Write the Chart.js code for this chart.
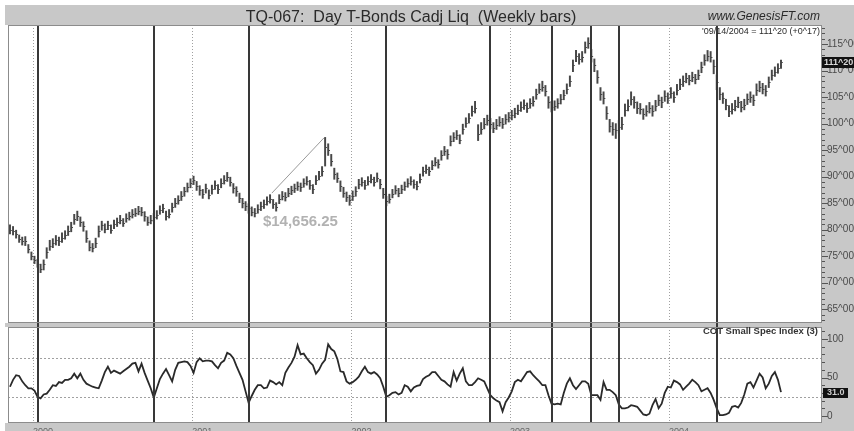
<!DOCTYPE html>
<html>
<head>
<meta charset="utf-8">
<script src="https://cdn.jsdelivr.net/npm/chart.js@4.4.1/dist/chart.umd.min.js"></script>
<style>
  body { margin: 0; background: #fff; }
  #wrap { position: relative; width: 854px; height: 431px; overflow: hidden; }
  canvas { position: absolute; left: 0; }
  #price { top: 0; }
  #cot { top: 325px; }
</style>
</head>
<body>
<div id="wrap">
  <canvas id="price" width="854" height="325"></canvas>
  <canvas id="cot" width="854" height="106"></canvas>
</div>
<script>
// weekly bars, first bar = week of 15 Nov 1999, last = week of 13 Sep 2004
const lows = [
  79.2,79.0,78.4,77.6,77.1,77.0,75.6,74.3,73.6,72.9,
  71.9,72.4,74.6,76.1,76.6,77.1,77.0,77.6,78.2,78.9,
  79.6,81.0,81.7,80.6,79.7,77.6,76.0,75.8,76.6,78.6,
  79.9,79.4,80.0,79.3,80.2,80.6,81.1,80.6,81.4,81.8,
  82.2,82.5,82.8,82.6,81.6,80.8,81.1,81.5,82.0,82.9,
  83.2,81.8,82.2,83.3,84.2,84.8,85.5,86.3,87.1,87.9,
  88.5,87.4,86.5,85.9,86.9,85.8,86.7,87.6,86.8,87.9,
  88.6,89.1,88.2,86.9,86.3,85.1,84.1,83.6,83.1,82.6,
  82.4,83.1,83.6,84.0,84.6,85.0,84.0,83.5,84.9,85.6,
  85.4,86.2,86.6,87.0,87.4,87.2,88.0,88.4,87.6,86.8,
  88.5,89.4,90.1,92.0,94.0,92.0,89.5,88.9,87.2,86.1,
  85.3,84.6,85.5,86.3,87.7,88.2,87.6,88.4,88.8,88.2,
  89.0,87.7,85.9,84.5,85.0,86.0,86.7,86.2,86.8,87.4,
  88.0,88.4,87.8,87.5,88.8,90.1,90.6,90.2,91.3,92.0,
  91.6,93.1,94.0,93.3,95.8,96.6,97.0,96.2,98.0,99.3,
  100.1,101.4,102.0,96.8,98.0,99.0,99.7,99.0,98.3,98.9,
  99.5,99.1,99.9,100.3,100.7,101.1,101.7,102.3,102.7,102.1,
  102.9,103.3,104.6,105.7,106.1,105.2,102.9,102.2,102.5,102.9,
  103.7,104.5,105.6,107.0,109.8,111.7,111.2,111.6,113.3,114.2,
  111.6,109.8,107.6,104.4,103.7,100.8,98.4,97.8,97.2,98.2,
  98.9,101.4,102.4,103.5,102.9,101.9,101.8,100.8,101.4,102.0,
  101.4,102.4,103.4,103.0,104.2,103.8,104.8,104.0,105.4,106.4,
  107.0,107.7,107.3,107.9,107.5,108.3,109.6,111.0,111.8,111.6,
  109.4,106.4,104.5,103.8,102.6,101.3,101.8,102.4,103.0,102.2,
  102.6,103.6,104.0,103.4,105.3,106.0,105.6,105.2,106.8,108.2,
  108.9,109.5,110.4
];
const highs = [
  80.9,80.6,79.9,79.0,78.6,78.7,77.2,75.8,75.0,74.4,
  73.5,74.3,76.6,78.0,78.3,78.9,78.6,79.4,79.8,80.7,
  81.4,82.9,83.5,82.4,81.5,79.8,77.9,77.4,78.4,80.7,
  81.6,81.1,81.6,80.9,81.8,82.2,82.7,82.1,83.0,83.3,
  83.8,84.0,84.4,84.2,83.4,82.4,82.7,83.1,83.6,84.5,
  84.8,83.5,83.8,85.0,85.9,86.4,87.2,88.0,88.8,89.6,
  90.1,89.1,88.3,87.6,88.6,87.5,88.4,89.2,88.5,89.6,
  90.2,90.8,89.9,88.7,88.1,86.9,85.9,85.3,84.9,84.3,
  84.0,84.7,85.2,85.6,86.2,86.6,85.7,85.1,86.6,87.2,
  87.0,87.8,88.2,88.6,89.0,88.8,89.6,90.0,89.3,88.5,
  90.2,91.0,91.9,97.4,96.2,94.2,91.6,90.7,89.2,88.0,
  87.1,86.5,87.3,88.1,89.5,89.8,89.3,90.0,90.4,89.9,
  90.7,89.5,87.8,86.3,86.7,87.6,88.3,87.8,88.4,89.0,
  89.6,90.0,89.4,89.1,90.5,91.8,92.2,91.8,93.0,93.6,
  93.2,94.9,95.7,95.1,97.7,98.3,98.7,97.9,99.9,101.1,
  101.9,103.3,104.2,99.8,100.2,101.0,101.6,101.0,100.2,100.8,
  101.3,101.0,101.7,102.1,102.5,102.9,103.5,104.1,104.5,103.9,
  104.7,105.1,106.5,107.5,108.0,107.2,105.1,104.2,104.3,104.7,
  105.5,106.3,107.5,109.0,112.0,113.8,113.2,113.6,115.4,116.2,
  114.0,112.2,110.0,106.8,106.0,103.2,100.8,100.2,100.0,100.6,
  101.2,103.7,104.5,106.0,105.1,104.1,103.8,102.8,103.4,104.0,
  103.4,104.4,105.4,105.0,106.2,105.8,106.8,106.0,107.4,108.4,
  109.0,109.5,109.1,109.7,109.3,110.1,111.6,113.0,113.8,113.6,
  112.0,109.2,106.8,105.8,104.6,103.4,103.8,104.4,105.0,104.2,
  104.6,105.6,106.0,105.4,107.5,108.0,107.6,107.2,108.8,110.1,
  110.7,111.3,112.0
];
const closes = [
  80.0,79.8,79.2,78.3,77.9,77.8,76.3,75.0,74.2,73.6,
  72.6,73.5,75.8,77.0,77.5,78.0,77.8,78.5,79.0,79.8,
  80.5,82.0,82.6,81.5,80.6,78.5,76.8,76.5,77.5,79.8,
  80.8,80.2,80.8,80.0,81.0,81.4,81.9,81.3,82.2,82.5,
  83.0,83.2,83.6,83.4,82.5,81.5,81.9,82.3,82.8,83.7,
  84.0,82.6,83.0,84.2,85.0,85.6,86.4,87.2,88.0,88.8,
  89.3,88.2,87.4,86.8,87.8,86.6,87.6,88.4,87.6,88.8,
  89.4,90.0,89.0,87.8,87.2,86.0,85.0,84.5,84.0,83.4,
  83.2,83.9,84.4,84.8,85.4,85.8,84.8,84.3,85.8,86.4,
  86.2,87.0,87.4,87.8,88.2,88.0,88.8,89.2,88.5,87.6,
  89.4,90.2,91.0,95.5,95.0,93.0,90.5,89.8,88.2,87.0,
  86.2,85.6,86.4,87.2,88.6,89.0,88.4,89.2,89.6,89.0,
  89.8,88.6,86.8,85.4,85.8,86.8,87.5,87.0,87.6,88.2,
  88.8,89.2,88.6,88.3,89.6,91.0,91.4,91.0,92.2,92.8,
  92.4,94.0,94.8,94.2,96.8,97.4,97.8,97.0,99.0,100.2,
  101.0,102.4,103.0,98.0,99.0,100.0,100.6,100.0,99.2,99.8,
  100.4,100.0,100.8,101.2,101.6,102.0,102.6,103.2,103.6,103.0,
  103.8,104.2,105.6,106.6,107.0,106.2,104.0,103.2,103.4,103.8,
  104.6,105.4,106.6,108.0,111.0,112.8,112.2,112.6,114.4,115.2,
  112.8,111.0,108.8,105.6,104.8,102.0,99.6,99.0,98.8,99.4,
  100.0,102.6,103.4,104.6,104.0,103.0,102.8,101.8,102.4,103.0,
  102.4,103.4,104.4,104.0,105.2,104.8,105.8,105.0,106.4,107.4,
  108.0,108.6,108.2,108.8,108.4,109.2,110.6,112.0,112.8,112.6,
  110.8,107.8,105.6,104.8,103.6,102.4,102.8,103.4,104.0,103.2,
  103.6,104.6,105.0,104.4,106.4,107.0,106.6,106.2,107.8,109.2,
  109.8,110.4,111.625
];
const cotIndex = [
  38,47,53,52,45,40,36,36,33,25,
  23,28,29,34,40,39,44,43,47,47,
  49,55,49,55,47,42,40,38,37,36,
  46,57,64,56,59,57,55,58,61,64,
  68,69,58,68,56,46,36,24,36,48,
  55,61,53,45,60,69,70,71,70,65,
  56,70,75,71,72,72,71,66,62,69,
  72,82,80,75,65,56,47,32,17,26,
  34,40,40,36,37,46,44,41,44,40,
  56,63,69,77,92,80,81,75,70,66,
  55,60,68,73,93,87,84,74,58,57,
  45,42,44,47,51,58,64,57,55,57,
  54,49,38,25,27,30,31,28,30,40,
  38,32,37,39,40,48,51,53,57,57,
  52,47,45,41,38,57,46,55,62,45,
  40,40,44,49,47,45,36,27,23,20,
  18,6,18,24,32,44,47,45,51,57,
  58,53,49,45,40,40,27,16,15,16,
  15,30,42,49,40,35,40,45,45,42,
  27,27,27,21,44,34,34,31,27,15,
  10,10,11,14,13,12,7,2,1,3,
  14,22,10,16,30,38,37,46,44,41,
  34,38,42,47,44,40,32,34,36,30,
  21,10,1,1,2,4,12,13,11,17,
  28,42,44,37,46,55,50,36,42,52,
  57,47,31
];

const yearLabels = ['2000', '2001', '2002', '2003', '2004'];
const yearStarts = [7.5, 59.6, 111.6, 163.4, 215.4];        // week position of 1 January
const signalWeeks = [9, 47, 78, 123, 157, 177, 190, 199, 231];
const priceTicks = [65, 70, 75, 80, 85, 90, 95, 100, 105, 110, 115];
const cotTicks = [0, 50, 100];
const cotLevels = [25, 75];
const trendWeeks = [85.6, 102.6];
const trendPrices = [86.9, 97.3];
const trendLabel = '$14,656.25';

const weeks = closes.map((_, i) => i);
const FONT = '"Liberation Sans", Arial, sans-serif';
const GREY = '#c8c8c8';
const X_MIN = -0.65;
const X_MAX = 265.4;

Chart.defaults.font.family = FONT;
Chart.defaults.animation = false;

function fmt32(v) {
  const whole = Math.floor(v);
  const t = Math.round((v - whole) * 32);
  return whole + '^' + String(t).padStart(2, '0');
}

// keep chart areas exactly where the padding puts them
function noPadding(s) {
  s.paddingTop = 0;
  s.paddingBottom = 0;
  s.paddingLeft = 0;
  s.paddingRight = 0;
}

function drawYearLines(chart) {
  const { ctx, chartArea: a } = chart;
  const x = chart.scales.x;
  ctx.save();
  ctx.strokeStyle = '#a0a0a0';
  ctx.lineWidth = 1;
  ctx.setLineDash([1, 2]);
  yearStarts.forEach((w) => {
    const px = Math.round(x.getPixelForValue(w)) + 0.5;
    ctx.beginPath();
    ctx.moveTo(px, a.top);
    ctx.lineTo(px, a.bottom);
    ctx.stroke();
  });
  ctx.restore();
}

function drawSignals(chart, top, bottom) {
  const { ctx } = chart;
  const x = chart.scales.x;
  ctx.save();
  ctx.strokeStyle = '#383838';
  ctx.lineWidth = 2;
  signalWeeks.forEach((w) => {
    const px = Math.round(x.getPixelForValue(w));
    ctx.beginPath();
    ctx.moveTo(px, top);
    ctx.lineTo(px, bottom);
    ctx.stroke();
  });
  ctx.restore();
}

function drawAxisMarks(chart, scale, minor, major) {
  const { ctx, chartArea: a } = chart;
  ctx.save();
  ctx.fillStyle = '#555';
  for (let v = Math.ceil(scale.min / minor) * minor; v <= scale.max; v += minor) {
    const py = Math.round(scale.getPixelForValue(v));
    const len = v % major === 0 ? 6 : 3;
    ctx.fillRect(a.right, py, len, 1);
  }
  ctx.restore();
}

const priceFrame = {
  id: 'priceFrame',
  beforeDraw(chart) {
    const { ctx, chartArea: a, width, height } = chart;
    ctx.save();
    ctx.fillStyle = '#fff';
    ctx.fillRect(0, 0, width, height);
    ctx.fillStyle = GREY;
    ctx.fillRect(5, 5, width - 5, a.top - 5);
    ctx.fillRect(a.right, 5, width - a.right, height - 5);
    ctx.fillRect(5, a.bottom, width - 5, height - a.bottom);
    ctx.restore();
    drawYearLines(chart);
  },
  afterDatasetsDraw(chart) {
    const { ctx, chartArea: a } = chart;
    const x = chart.scales.x;
    const y = chart.scales.y;
    ctx.save();
    // close ticks
    ctx.fillStyle = '#474747';
    weeks.forEach((i) => {
      const px = x.getPixelForValue(i);
      const py = Math.round(y.getPixelForValue(closes[i]));
      ctx.fillRect(px, py, 1.8, 1);
    });
    // trend line and its label
    const x0 = x.getPixelForValue(trendWeeks[0]);
    const y0 = y.getPixelForValue(trendPrices[0]);
    ctx.strokeStyle = '#9a9a9a';
    ctx.lineWidth = 1;
    ctx.beginPath();
    ctx.moveTo(x0, y0);
    ctx.lineTo(x.getPixelForValue(trendWeeks[1]), y.getPixelForValue(trendPrices[1]));
    ctx.stroke();
    ctx.fillStyle = '#b2b2b2';
    ctx.font = 'bold 15px ' + FONT;
    ctx.textBaseline = 'middle';
    ctx.fillText(trendLabel, x0 - 9, y0 + 29);
    ctx.restore();
    drawSignals(chart, a.top, chart.height);
    ctx.save();
    ctx.strokeStyle = '#8c8c8c';
    ctx.lineWidth = 1;
    ctx.strokeRect(a.left + 0.5, a.top + 0.5, a.right - a.left - 1, a.bottom - a.top - 1);
    ctx.restore();
  },
  afterDraw(chart) {
    const { ctx, chartArea: a } = chart;
    const y = chart.scales.y;
    drawAxisMarks(chart, y, 1, 5);
    ctx.save();
    ctx.fillStyle = '#2a2a2a';
    ctx.textBaseline = 'alphabetic';
    ctx.font = '16px ' + FONT;
    ctx.textAlign = 'center';
    ctx.fillText('TQ-067:  Day T-Bonds Cadj Liq  (Weekly bars)', 411, 22);
    ctx.textAlign = 'right';
    ctx.font = 'italic 12px ' + FONT;
    ctx.fillText('www.GenesisFT.com', 820, 20);
    ctx.font = '9px ' + FONT;
    ctx.fillText("'09/14/2004 = 111^20 (+0^17)", 820, 34);
    // last price box
    const last = closes[closes.length - 1];
    const py = Math.round(y.getPixelForValue(last));
    ctx.fillStyle = '#111';
    ctx.fillRect(a.right, py - 5, 32, 11);
    ctx.fillStyle = '#d8d8d8';
    ctx.textAlign = 'left';
    ctx.textBaseline = 'middle';
    ctx.font = 'bold 9px ' + FONT;
    ctx.fillText(fmt32(last), a.right + 2, py + 0.5);
    ctx.restore();
  },
};

const cotFrame = {
  id: 'cotFrame',
  beforeDraw(chart) {
    const { ctx, chartArea: a, width, height } = chart;
    ctx.save();
    ctx.fillStyle = '#fff';
    ctx.fillRect(0, 0, width, height);
    ctx.fillStyle = GREY;
    ctx.fillRect(5, 0, width - 5, a.top);
    ctx.fillRect(a.right, 0, width - a.right, height);
    ctx.fillRect(5, a.bottom, width - 5, height - a.bottom);
    ctx.fillStyle = '#fff';
    ctx.fillRect(a.left, a.top, a.right - a.left, a.bottom - a.top);
    ctx.restore();
    drawYearLines(chart);
    const y = chart.scales.y;
    ctx.save();
    ctx.strokeStyle = '#a0a0a0';
    ctx.setLineDash([2, 2]);
    cotLevels.forEach((v) => {
      const py = Math.round(y.getPixelForValue(v)) + 0.5;
      ctx.beginPath();
      ctx.moveTo(a.left, py);
      ctx.lineTo(a.right, py);
      ctx.stroke();
    });
    ctx.restore();
  },
  afterDatasetsDraw(chart) {
    const { ctx, chartArea: a } = chart;
    drawSignals(chart, 0, a.bottom);
    ctx.save();
    ctx.strokeStyle = '#8c8c8c';
    ctx.lineWidth = 1;
    ctx.strokeRect(a.left + 0.5, a.top + 0.5, a.right - a.left - 1, a.bottom - a.top - 1);
    ctx.fillStyle = '#333';
    ctx.font = 'bold 9.5px ' + FONT;
    ctx.textAlign = 'right';
    ctx.fillText('COT Small Spec Index (3)', 818, 9);
    ctx.restore();
  },
  afterDraw(chart) {
    const { ctx, chartArea: a } = chart;
    const y = chart.scales.y;
    drawAxisMarks(chart, y, 10, 50);
    const last = cotIndex[cotIndex.length - 1];
    const py = Math.round(y.getPixelForValue(last));
    ctx.save();
    ctx.fillStyle = '#111';
    ctx.fillRect(a.right + 1, py - 4, 25, 10);
    ctx.fillStyle = '#cfcfcf';
    ctx.font = 'bold 9px ' + FONT;
    ctx.textBaseline = 'middle';
    ctx.fillText(last.toFixed(1), a.right + 5, py + 1);
    ctx.restore();
  },
};

const rightAxis = (min, max, ticks, label) => ({
  position: 'right',
  min,
  max,
  afterFit: (s) => { s.width = 32; noPadding(s); },
  afterBuildTicks: (s) => { s.ticks = ticks.map((v) => ({ value: v })); },
  grid: { display: false, drawTicks: false },
  border: { display: false },
  ticks: {
    padding: 5,
    color: '#4a4a4a',
    font: { size: 10 },
    callback: label,
  },
});

new Chart(document.getElementById('price'), {
  type: 'bar',
  data: {
    datasets: [
      {
        data: weeks.map((i) => ({ x: i, y: [lows[i], highs[i]] })),
        backgroundColor: '#474747',
        barThickness: 1.3,
      },
    ],
  },
  options: {
    responsive: false,
    devicePixelRatio: 1,
    layout: { padding: { left: 8, top: 25, right: 0, bottom: 2 } },
    plugins: { legend: { display: false }, tooltip: { enabled: false } },
    scales: {
      x: { type: 'linear', display: false, offset: false, min: X_MIN, max: X_MAX },
      y: rightAxis(62.4, 118.6, priceTicks, (v) => fmt32(v)),
    },
  },
  plugins: [priceFrame],
});

new Chart(document.getElementById('cot'), {
  type: 'line',
  data: {
    datasets: [
      {
        data: weeks.map((i) => ({ x: i, y: cotIndex[i] })),
        borderColor: '#2a2a2a',
        borderWidth: 1.8,
        pointRadius: 0,
        tension: 0,
      },
    ],
  },
  options: {
    responsive: false,
    devicePixelRatio: 1,
    layout: { padding: { left: 8, top: 2, right: 0, bottom: 0 } },
    plugins: { legend: { display: false }, tooltip: { enabled: false } },
    scales: {
      x: {
        type: 'linear',
        offset: false,
        min: X_MIN,
        max: X_MAX,
        afterFit: (s) => { s.height = 8; noPadding(s); },
        afterBuildTicks: (s) => { s.ticks = yearStarts.map((v) => ({ value: v })); },
        grid: { display: false, drawTicks: false },
        border: { display: false },
        ticks: {
          align: 'start',
          padding: 3,
          maxRotation: 0,
          autoSkip: false,
          color: '#666',
          font: { size: 9 },
          callback: (v, i) => yearLabels[i],
        },
      },
      y: rightAxis(-9.1, 115.6, cotTicks, (v) => String(v)),
    },
  },
  plugins: [cotFrame],
});
</script>
</body>
</html>
